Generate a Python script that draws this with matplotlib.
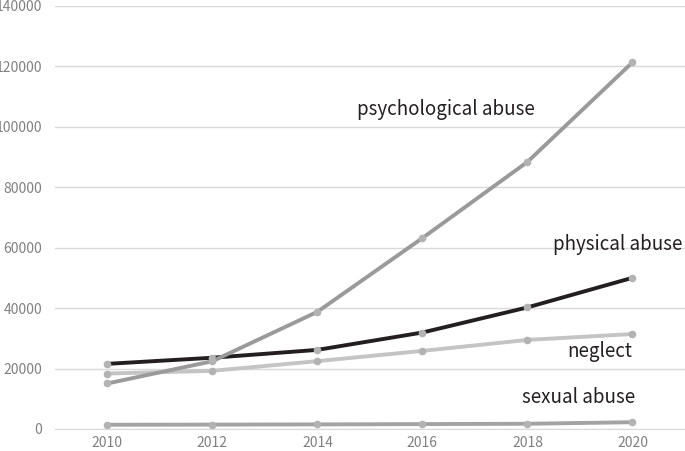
import matplotlib
matplotlib.use('Agg')
import matplotlib.pyplot as plt

plt.rcParams['font.family'] = ['Noto Sans CJK JP', 'DejaVu Sans']

years = [2010, 2012, 2014, 2016, 2018, 2020]
psychological = [15068, 22423, 38775, 63186, 88391, 121334]
physical = [21559, 23579, 26181, 31925, 40238, 50035]
neglect = [18352, 19250, 22455, 25842, 29479, 31430]
sexual = [1405, 1449, 1520, 1622, 1730, 2245]

fig = plt.figure(figsize=(6.85, 4.51), dpi=100)
ax = fig.add_axes([0.080, 0.0488, 0.92, 0.938])

mk = dict(marker='o', markersize=4.5, markerfacecolor='#b3b3b3', markeredgecolor='#b3b3b3')
ax.plot(years, sexual, color='#a3a3a3', linewidth=2.8, **mk)
ax.plot(years, neglect, color='#c4c4c4', linewidth=2.8, **mk)
ax.plot(years, physical, color='#231f20', linewidth=2.8, **mk)
ax.plot(years, psychological, color='#9a9a9a', linewidth=2.8, **mk)

fs = 13.5
ax.text(2016.45, 105600, 'psychological abuse', fontsize=fs, ha='center', va='center', color='#231f20')
ax.text(2020.95, 60900, 'physical abuse', fontsize=fs, ha='right', va='center', color='#231f20')
ax.text(2020.0, 25800, 'neglect', fontsize=fs, ha='right', va='center', color='#231f20')
ax.text(2020.05, 10300, 'sexual abuse', fontsize=fs, ha='right', va='center', color='#231f20')

ax.set_xlim(2009, 2021)
ax.set_ylim(0, 140000)
ax.set_yticks(range(0, 140001, 20000))
ax.set_xticks(years)
ax.grid(axis='y', color='#d9d9d9', linewidth=1)
ax.set_axisbelow(True)
for s in ['left', 'right', 'top']:
    ax.spines[s].set_visible(False)
ax.spines['bottom'].set_color('#d9d9d9')
ax.tick_params(axis='both', length=0, labelsize=10, labelcolor='#808080')
ax.tick_params(axis='y', pad=9)
ax.tick_params(axis='x', pad=5)
for lab in ax.get_yticklabels():
    lab.set_clip_on(False)

fig.savefig('out.png', dpi=100)
